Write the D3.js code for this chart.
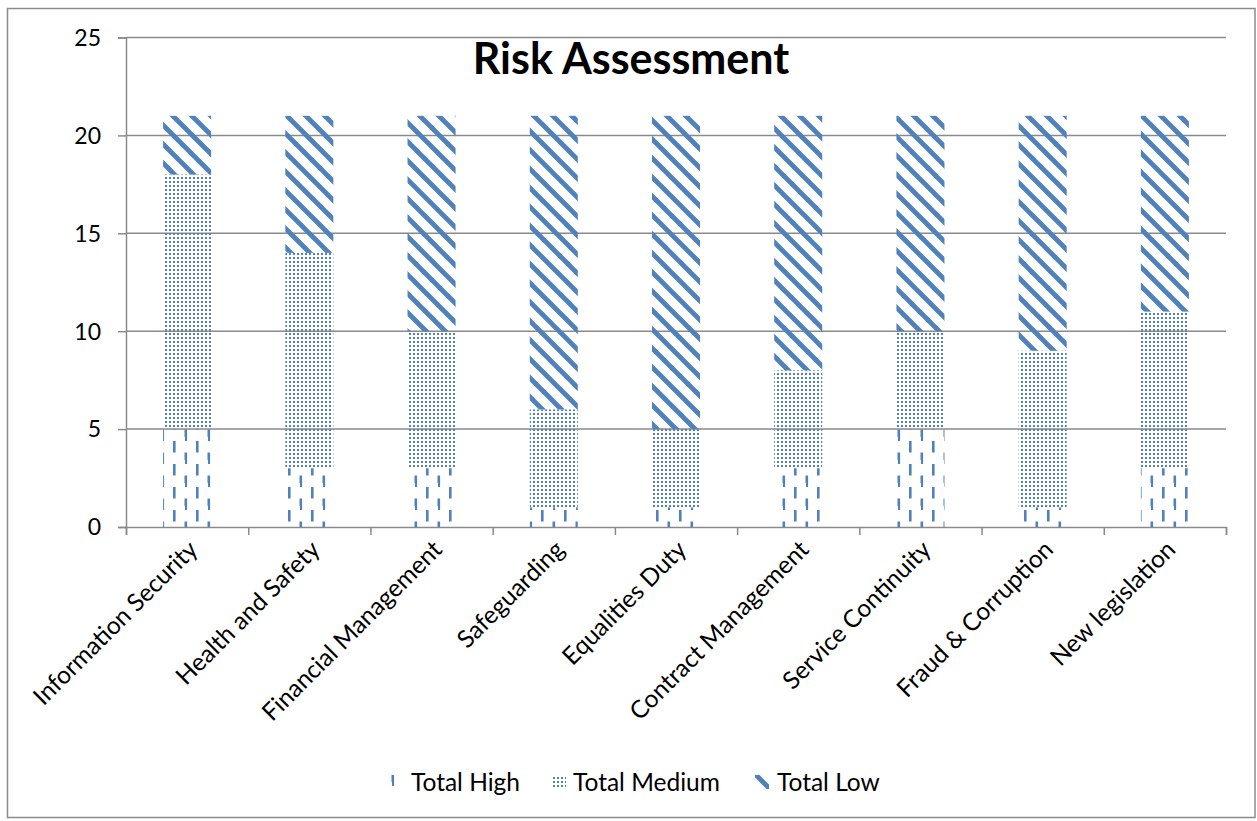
<!DOCTYPE html>
<html>
<head>
<meta charset="utf-8">
<script src="https://cdn.jsdelivr.net/npm/d3@7"></script>
<style>
  html, body { margin: 0; padding: 0; background: #fff; }
  svg { display: block; }
  text { font-family: Lato, "Open Sans", sans-serif; fill: #000; }
</style>
</head>
<body>
<svg id="chart" width="1257" height="821"></svg>
<script>
// Risk counts per area
const categories = [
  "Information Security", "Health and Safety", "Financial Management",
  "Safeguarding", "Equalities Duty", "Contract Management",
  "Service Continuity", "Fraud & Corruption", "New legislation"
];
const totalHigh   = [5, 3, 3, 1, 1, 3, 5, 1, 3];
const totalMedium = [13, 11, 7, 5, 4, 5, 5, 8, 8];
const totalLow    = [3, 7, 11, 15, 16, 13, 11, 12, 10];
const seriesNames = ["Total High", "Total Medium", "Total Low"];
const yTicks = [0, 5, 10, 15, 20, 25];

const blue = "#4f81bd";
const grid = "#8a8a8a";

const svg = d3.select("#chart");

// Fill patterns for the three series
const defs = svg.append("defs");

const pHigh = defs.append("pattern").attr("id", "pat-high")
  .attr("patternUnits", "userSpaceOnUse")
  .attr("x", 162).attr("y", 0)
  .attr("width", 23).attr("height", 23);
pHigh.append("rect").attr("x", 11).attr("y", 4).attr("width", 2.6).attr("height", 11.5).attr("fill", blue);
pHigh.append("rect").attr("x", 22.5).attr("y", 15.5).attr("width", 2.6).attr("height", 11.5).attr("fill", blue);
pHigh.append("rect").attr("x", -0.5).attr("y", 15.5).attr("width", 2.6).attr("height", 11.5).attr("fill", blue);
pHigh.append("rect").attr("x", -0.5).attr("y", -7.5).attr("width", 2.6).attr("height", 11.5).attr("fill", blue);

const pMed = defs.append("pattern").attr("id", "pat-med")
  .attr("patternUnits", "userSpaceOnUse")
  .attr("width", 4).attr("height", 4);
pMed.append("rect").attr("x", 1).attr("y", 1).attr("width", 2).attr("height", 2).attr("fill", blue);

const sp = 19;
const pLow = defs.append("pattern").attr("id", "pat-low")
  .attr("patternUnits", "userSpaceOnUse")
  .attr("width", sp).attr("height", sp);
pLow.append("path")
  .attr("d", `M-3,-3L${sp + 3},${sp + 3}M-3,${sp - 3}L3,${sp + 3}M${sp - 3},-3L${sp + 3},3`)
  .attr("stroke", blue).attr("stroke-width", 4.8).attr("fill", "none");

const patterns = ["url(#pat-high)", "url(#pat-med)", "url(#pat-low)"];

// Outer chart frame
svg.append("rect")
  .attr("x", 7.5).attr("y", 8.5).attr("width", 1247.5).attr("height", 809)
  .attr("fill", "#fff").attr("stroke", grid).attr("stroke-width", 1.5);

// Scales
const plotLeft = 126, plotRight = 1226, plotTop = 37.5, plotBottom = 527;
const x = d3.scaleBand().domain(categories).range([plotLeft, plotRight])
  .paddingInner(0.607).paddingOuter(0.3035);
const xEdge = d3.scaleLinear().domain([0, categories.length]).range([plotLeft, plotRight]);
const y = d3.scaleLinear().domain([0, 25]).range([plotBottom, plotTop]);

// Horizontal gridlines
svg.append("g").selectAll("line").data(yTicks.filter(d => d > 0)).join("line")
  .attr("x1", plotLeft).attr("x2", plotRight)
  .attr("y1", d => y(d)).attr("y2", d => y(d))
  .attr("stroke", grid).attr("stroke-width", 1.5);

// Stacked bars
const rows = categories.map((c, i) => ({
  cat: c, "Total High": totalHigh[i], "Total Medium": totalMedium[i], "Total Low": totalLow[i]
}));
const stacked = d3.stack().keys(seriesNames)(rows);

svg.append("g").selectAll("g").data(stacked).join("g")
  .attr("fill", (d, i) => patterns[i])
  .selectAll("rect").data(d => d).join("rect")
  .attr("x", d => x(d.data.cat))
  .attr("width", x.bandwidth())
  .attr("y", d => y(d[1]))
  .attr("height", d => y(d[0]) - y(d[1]));

// Y axis
const yAxis = svg.append("g").attr("transform", `translate(${plotLeft},0)`)
  .call(d3.axisLeft(y).tickValues(yTicks).tickSize(8).tickPadding(17).tickFormat(d3.format("d")));
yAxis.select(".domain").attr("stroke", grid).attr("stroke-width", 1.5);
yAxis.selectAll(".tick line").attr("stroke", grid).attr("stroke-width", 1.5);
yAxis.selectAll(".tick text").attr("font-size", 23).attr("font-family", "Lato, sans-serif").attr("dy", "0.34em");

// X axis with ticks at category boundaries
const xAxis = svg.append("g").attr("transform", `translate(0,${plotBottom})`)
  .call(d3.axisBottom(xEdge).tickValues(d3.range(categories.length + 1)).tickSize(8).tickFormat(""));
xAxis.select(".domain").attr("stroke", grid).attr("stroke-width", 1.5);
xAxis.selectAll(".tick line").attr("stroke", grid).attr("stroke-width", 1.5);

// Rotated category labels
svg.append("g").selectAll("text").data(categories).join("text")
  .attr("transform", d => `translate(${x(d) + x.bandwidth() / 2 + 12},${plotBottom + 24}) rotate(-45)`)
  .attr("text-anchor", "end")
  .attr("font-size", 24.5)
  .text(d => d);

// Title
svg.append("text")
  .attr("x", 631).attr("y", 74)
  .attr("text-anchor", "middle")
  .attr("font-size", 43).attr("font-weight", "bold")
  .text("Risk Assessment");

// Legend
const legendItems = [
  { name: seriesNames[0], sx: 388, tx: 411 },
  { name: seriesNames[1], sx: 552, tx: 573 },
  { name: seriesNames[2], sx: 755, tx: 777 }
];
const lg = svg.append("g");
legendItems.forEach((d, i) => {
  lg.append("rect").attr("x", d.sx).attr("y", 775).attr("width", 14).attr("height", 14)
    .attr("fill", patterns[i]);
  lg.append("text").attr("x", d.tx).attr("y", 791).attr("font-size", 24.5).text(d.name);
});
</script>
</body>
</html>
